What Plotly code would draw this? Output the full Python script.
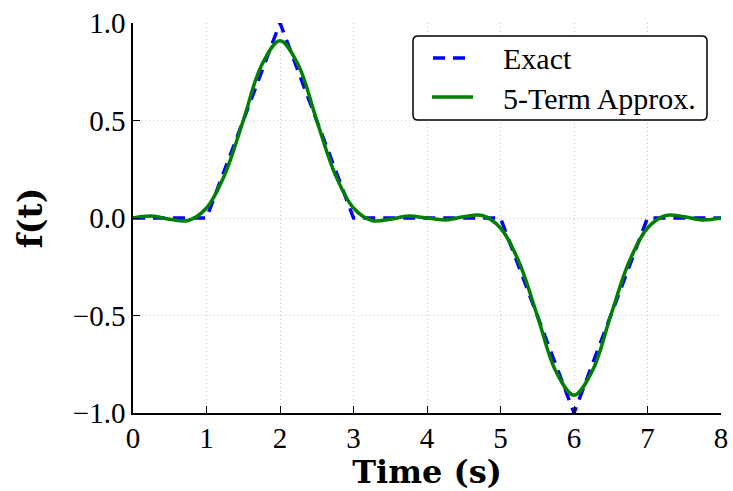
import plotly.graph_objects as go

# ---- data ----
t_exact = [0, 1, 2, 3, 5, 6, 7, 8]
f_exact = [0.0, 0.0, 1.0, 0.0, 0.0, -1.0, 0.0, 0.0]

t_approx = [0.0, 0.25, 0.5, 0.75, 1.0, 1.25, 1.5, 1.75, 2.0, 2.25, 2.5, 2.75,
            3.0, 3.25, 3.5, 3.75, 4.0, 4.25, 4.5, 4.75, 5.0, 5.25, 5.5, 5.75,
            6.0, 6.25, 6.5, 6.75, 7.0, 7.25, 7.5, 7.75, 8.0]
f_approx = [0.0, 0.0101, -0.0061, -0.0130, 0.0511, 0.2241, 0.4995, 0.7836,
            0.9086, 0.7836, 0.4995, 0.2241, 0.0511, -0.0130, -0.0061, 0.0101,
            0.0, -0.0101, 0.0061, 0.0130, -0.0511, -0.2241, -0.4995, -0.7836,
            -0.9086, -0.7836, -0.4995, -0.2241, -0.0511, 0.0130, 0.0061, -0.0101, 0.0]

x_ticks = [0, 1, 2, 3, 4, 5, 6, 7, 8]
y_ticks = [-1.0, -0.5, 0.0, 0.5, 1.0]
series_names = ["Exact", "5-Term Approx."]

# ---- layout geometry (pixels) ----
W, H = 733, 491
ML, MR, MT, MB = 133, 12, 23, 78
PW, PH = W - ML - MR, H - MT - MB


def px(x):
    return (x - ML) / PW


def py(y):
    return (H - MB - y) / PH


BLUE = "#0000ff"
GREEN = "#008000"

fig = go.Figure()
fig.add_trace(go.Scatter(x=t_exact, y=f_exact, mode="lines", name=series_names[0],
                         line=dict(color=BLUE, width=3.5, dash="12px,8px")))
fig.add_trace(go.Scatter(x=t_approx, y=f_approx, mode="lines", name=series_names[1],
                         line=dict(color=GREEN, width=3.5, shape="spline")))

axis_common = dict(ticks="inside", ticklen=7, tickwidth=1, tickcolor="black",
                   showline=True, linecolor="black", linewidth=1.5, automargin=False,
                   showgrid=True, gridcolor="#c8c8c8", gridwidth=1, griddash="1px,3px",
                   zeroline=False, tickfont=dict(family="Liberation Serif", size=29, color="black"))

fig.update_xaxes(range=[0, 8], tickvals=x_ticks, ticktext=[str(v) for v in x_ticks],
                 ticklabelstandoff=-2,
                 title=dict(text="<b>Time (s)</b>", standoff=10,
                            font=dict(family="DejaVu Serif", size=32, color="black")),
                 **axis_common)
fig.update_yaxes(range=[-1, 1], tickvals=y_ticks, tickformat=".1f",
                 title=dict(text="<b>f(t)</b>", standoff=20,
                            font=dict(family="DejaVu Serif", size=33, color="black")),
                 **axis_common)

# ---- legend drawn as shapes + text ----
x0, x1, y0, y1 = px(413), px(707), py(120), py(36)
rx, ry = 5 / PW, 5 / PH
path = (f"M {x0+rx},{y1} L {x1-rx},{y1} Q {x1},{y1} {x1},{y1-ry} "
        f"L {x1},{y0+ry} Q {x1},{y0} {x1-rx},{y0} L {x0+rx},{y0} "
        f"Q {x0},{y0} {x0},{y0+ry} L {x0},{y1-ry} Q {x0},{y1} {x0+rx},{y1} Z")
shapes = [
    dict(type="path", path=path, xref="paper", yref="paper", layer="above",
         fillcolor="white", line=dict(color="black", width=1.5)),
    dict(type="line", xref="paper", yref="paper", layer="above",
         x0=px(433), x1=px(473), y0=py(58), y1=py(58),
         line=dict(color=BLUE, width=3.5, dash="12px,8px")),
    dict(type="line", xref="paper", yref="paper", layer="above",
         x0=px(432), x1=px(473), y0=py(97), y1=py(97),
         line=dict(color=GREEN, width=3.5)),
]
annotations = [
    dict(text=series_names[0], x=px(501), y=py(58), xref="paper", yref="paper",
         xanchor="left", yanchor="middle", showarrow=False,
         font=dict(family="Liberation Serif", size=30, color="black")),
    dict(text=series_names[1], x=px(501), y=py(98), xref="paper", yref="paper",
         xanchor="left", yanchor="middle", showarrow=False,
         font=dict(family="Liberation Serif", size=30, color="black")),
]

fig.update_layout(width=W, height=H, autosize=False,
                  margin=dict(l=ML, r=MR, t=MT, b=MB, pad=0, autoexpand=False),
                  plot_bgcolor="white", paper_bgcolor="white",
                  showlegend=False, shapes=shapes, annotations=annotations,
                  font=dict(family="Liberation Serif", color="black"))

fig.write_html("out.html")
